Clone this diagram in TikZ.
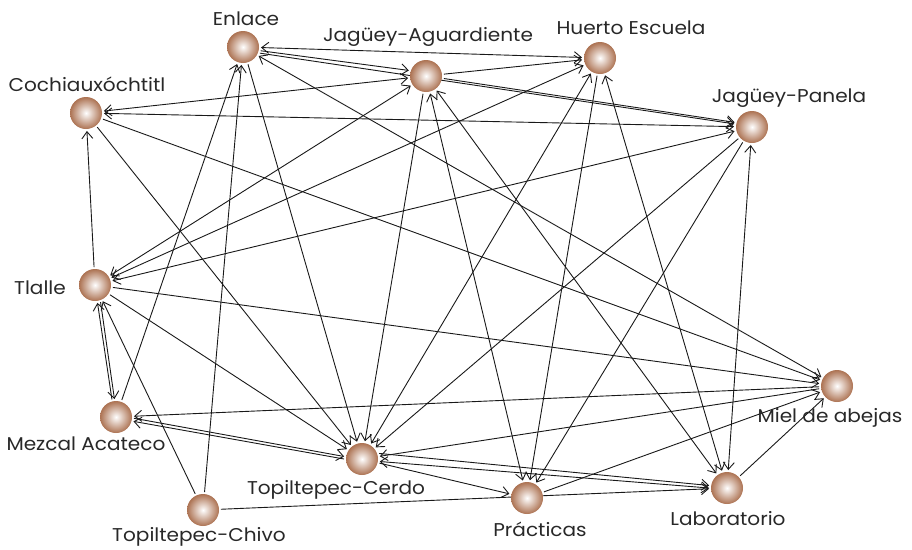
\documentclass[tikz,border=0pt]{standalone}
\usepackage{fontspec}
\setmainfont[FakeStretch=1.085]{Poppins}
\usetikzlibrary{arrows.meta,backgrounds}
\definecolor{ballc}{RGB}{172,114,82}
\definecolor{txt}{RGB}{40,40,40}
\definecolor{ln}{RGB}{25,25,25}
\begin{document}
\begin{tikzpicture}[x=1pt,y=-1pt,
  ball/.style={circle,minimum size=32pt,inner sep=0pt,outer sep=2pt,shading=radial,inner color=white,outer color=ballc},
  lbl/.style={text=txt,font=\fontsize{18.5}{22}\selectfont,inner sep=0pt},
  tip/.tip={Straight Barb[length=7pt,width=11pt]},
  edge/.style={draw=ln,line width=0.9pt,-tip},
  both/.style={draw=ln,line width=0.9pt,tip-tip},
  plain/.style={draw=ln,line width=0.9pt}]
\useasboundingbox (0,0) rectangle (912,549);
\node[ball] (E)  at (243,47)  {};
\node[ball] (JA) at (426,76)  {};
\node[ball] (HE) at (600,58)  {};
\node[ball] (C)  at (86,113)  {};
\node[ball] (JP) at (752,127) {};
\node[ball] (T)  at (95,285)  {};
\node[ball] (M)  at (837,386) {};
\node[ball] (Z)  at (116,417) {};
\node[ball] (K)  at (362,459) {};
\node[ball] (P)  at (527,498) {};
\node[ball] (L)  at (727,488) {};
\node[ball] (V)  at (203,510) {};
\node[lbl] (tE)  at (246,19)  {Enlace};
\node[lbl] (tJA) at (428,37)  {Jagüey-Aguardiente};
\node[lbl] (tHE) at (631,28)  {Huerto Escuela};
\node[lbl] (tC)  at (87,84)   {Cochiauxóchtitl};
\node[lbl] (tJP) at (789,98)  {Jagüey-Panela};
\node[lbl] (tT)  at (40,288)  {Tlalle};
\node[lbl] (tM)  at (830,418) {Miel de abejas};
\node[lbl] (tZ)  at (86,444)  {Mezcal Acateco};
\node[lbl] (tK)  at (336,490) {Topiltepec-Cerdo};
\node[lbl] (tP)  at (540,529) {Prácticas};
\node[lbl] (tL)  at (728,519) {Laboratorio};
\node[lbl] (tV)  at (199,537) {Topiltepec-Chivo};
\begin{pgfonlayer}{background}
\draw[both] (E) -- (HE);
\draw[edge] (E.-12) -- (JA.162);
\draw[edge] (E.-20) -- (JP.170);
\draw[edge] (JA) -- (HE);
\draw[edge] (JA.-8) -- (JP.165);
\draw[both] (C) -- (JP);
\draw[both] (C) -- (JA);
\draw[both] (HE) -- (T);
\draw[both] (JA) -- (T);
\draw[both] (JP) -- (T);
\draw[edge] (T) -- (C);
\draw[edge] (C) -- (M);
\draw[edge] (C) -- (K);
\draw[both] (E) -- (M);
\draw[edge] (E) -- (K);
\draw[edge] (Z) -- (E);
\draw[edge] (V) -- (E);
\draw[edge] (V) -- (T);
\draw[edge] (V) -- (L);
\draw[edge] (T.-72) -- (Z.95);
\draw[edge] (Z.103) -- (T.-82);
\draw[edge] (T) -- (K);
\draw[edge] (T) -- (M);
\draw[edge] (JA) -- (K);
\draw[both] (JA) -- (P);
\draw[both] (JA) -- (L);
\draw[both] (HE) -- (L);
\draw[both] (JP) -- (L);
\draw[edge] (HE) -- (P);
\draw[edge] (JP) -- (P);
\draw[both] (HE) -- (K);
\draw[edge] (JP) -- (K);
\draw[edge] (Z.-4) -- (K.172);
\draw[edge] (K.180) -- (Z.-14);
\draw[edge] (M) -- (Z);
\draw[edge] (K) -- (P);
\draw[edge] (K.18) -- (L.172);
\draw[both] (K.-8) -- (L.180);
\draw[edge] (P) -- (M);
\draw[edge] (L) -- (M);
\draw[edge] (M) -- (K);
\end{pgfonlayer}
\end{tikzpicture}
\end{document}
